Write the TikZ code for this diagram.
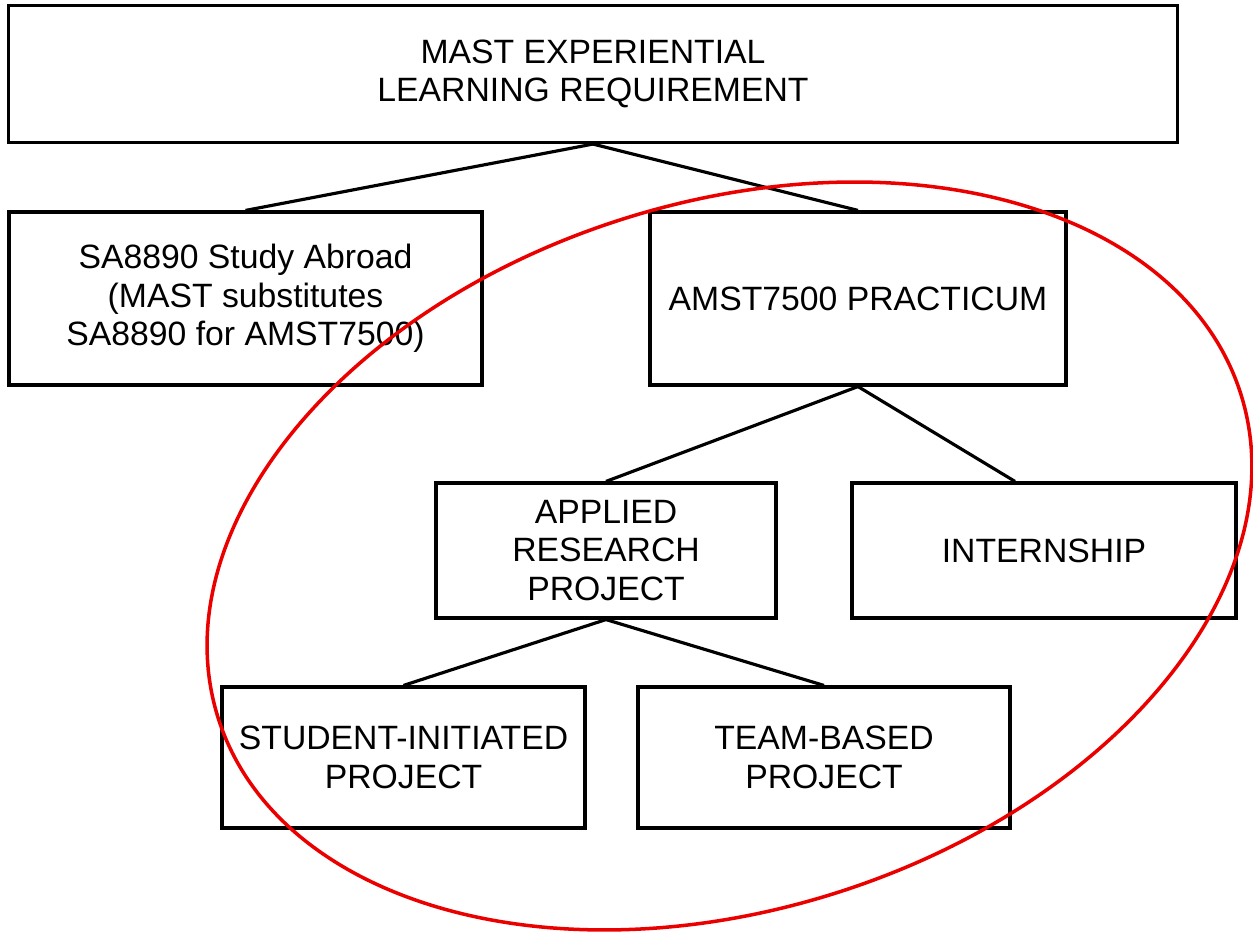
\documentclass[tikz,border=0pt]{standalone}
\usepackage{fontspec}
\setmainfont{Liberation Sans}
\begin{document}
\begin{tikzpicture}[x=0.02cm,y=-0.02cm,
  box/.style={draw=black,line width=1.8pt,align=center,inner sep=0pt,
    font=\fontsize{19.2}{22}\selectfont},
  link/.style={draw=black,line width=1.8pt},
  ring/.style={draw=red!92!black,line width=2pt}]
\useasboundingbox (0,0) rectangle (1253,932);
\node[box,minimum width=23.4cm,minimum height=2.74cm] (top) at (593,74)
  {MAST EXPERIENTIAL\\LEARNING REQUIREMENT};
\node[box,minimum width=9.46cm,minimum height=3.46cm] (sa) at (245.5,298.5)
  {SA8890 Study Abroad\\(MAST substitutes\\SA8890 for AMST7500)};
\node[box,minimum width=8.32cm,minimum height=3.46cm] (amst) at (858,298.5)
  {AMST7500 PRACTICUM};
\node[box,minimum width=6.8cm,minimum height=2.7cm] (arp) at (606,550.5)
  {APPLIED\\RESEARCH\\PROJECT};
\node[box,minimum width=7.68cm,minimum height=2.7cm] (int) at (1044,550.5)
  {INTERNSHIP};
\node[box,minimum width=7.26cm,minimum height=2.82cm] (stu) at (403.5,757.5)
  {STUDENT-INITIATED\\PROJECT};
\node[box,minimum width=7.44cm,minimum height=2.82cm] (team) at (824,757.5)
  {TEAM-BASED\\PROJECT};
\draw[link] (top.south) -- (sa.north);
\draw[link] (top.south) -- (amst.north);
\draw[link] (amst.south) -- (arp.north);
\draw[link] (amst.south) -- ([xshift=-0.58cm]int.north);
\draw[link] (arp.south) -- (stu.north);
\draw[link] (arp.south) -- (team.north);
\coordinate (c) at (729.5,556);
\draw[ring,rotate around={17.6:(c)}] (c) ellipse [x radius=10.73cm,y radius=7.07cm];
\end{tikzpicture}
\end{document}
